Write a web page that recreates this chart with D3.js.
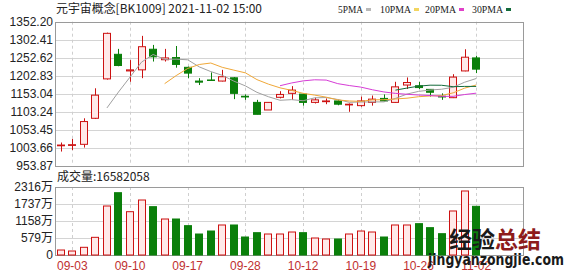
<!DOCTYPE html>
<html>
<head>
<meta charset="utf-8">
<script src="https://cdn.jsdelivr.net/npm/d3@7"></script>
<style>
  body { margin: 0; background: #fff; }
  svg { display: block; }
</style>
</head>
<body>
<svg id="chart" width="578" height="276"></svg>
<script>

// ===========================//
// DATA
// ===========================//

var days = ["09-02","09-03","09-06","09-07","09-08","09-09","09-10","09-13","09-14","09-15",
  "09-16","09-17","09-22","09-23","09-24","09-27","09-28","09-29","09-30","10-08",
  "10-11","10-12","10-13","10-14","10-15","10-18","10-19","10-20","10-21","10-22",
  "10-25","10-26","10-27","10-28","10-29","11-01","11-02"]

var open  = [1009,1010,1013,1085,1194,1262,1216,1219,1276,1247,1253,1226,1188,1191,1188,1197,1146,1129,1108,1143,
  1154,1152,1129,1131,1133,1122,1120,1129,1140,1129,1177,1175,1165,1146,1142,1216,1252]
var close = [1011,1012,1076,1149,1320,1231,1219,1283,1255,1252,1234,1210,1185,1190,1200,1154,1144,1096,1129,1151,
  1163,1129,1136,1133,1124,1124,1133,1138,1133,1172,1184,1170,1157,1144,1199,1254,1221]
var high  = [1018,1028,1085,1168,1322,1277,1246,1313,1288,1277,1285,1228,1196,1212,1219,1199,1151,1136,1129,1160,
  1174,1153,1142,1140,1136,1126,1145,1148,1151,1186,1198,1186,1166,1154,1207,1276,1258]
var low   = [993,997,1004,1083,1192,1229,1186,1196,1242,1242,1225,1196,1177,1189,1187,1138,1136,1096,1108,1140,
  1136,1120,1126,1124,1121,1103,1117,1120,1131,1128,1166,1166,1145,1136,1141,1215,1210]

// volume, in 万
var volume = [170,136,262,602,1669,2122,1475,1873,1646,1226,1226,999,715,817,1022,1022,613,760,715,715,
  783,760,579,545,545,715,817,783,613,1022,1022,1067,931,726,1499,2180,1658]

// moving averages (null = not drawn yet)
var ma5 = [null,null,null,null,1113.6,1157.6,1199,1240.4,1261.6,1248,1248.6,1246.8,1227.2,1214.2,1203.8,1187.8,1174.6,1156.8,1144.6,1134.8,
  1136.6,1133.6,1141.6,1142.4,1137,1129.2,1130,1130.4,1130.4,1140,1152,1159.4,1163.2,1165.4,1170.8,1184.8,1195]
var ma10 = [null,null,null,null,null,null,null,null,null,1180.8,1203.1,1222.9,1233.8,1237.9,1225.9,1218.2,1210.7,1192,1179.4,1169.3,
  1162.2,1154.1,1149.2,1143.5,1135.9,1132.9,1131.8,1136,1136.4,1138.5,1140.6,1144.7,1146.8,1147.9,1155.4,1168.4,1177.2]
var ma20 = [null,null,null,null,null,null,null,null,null,null,null,null,null,null,null,null,null,null,null,1175.1,
  1182.7,1188.5,1191.5,1190.7,1180.9,1175.6,1171.3,1164,1157.9,1153.9,1151.4,1149.4,1148,1145.7,1145.7,1150.7,1154.5]
var ma30 = [null,null,null,null,null,null,null,null,null,null,null,null,null,null,null,null,null,null,null,null,
  null,null,null,null,null,null,null,null,null,1162.9,1168.6,1173.9,1176.6,1176.4,1172.4,1173.2,1173.2]

var priceTicks = [953.87,1003.66,1053.45,1103.24,1153.04,1202.83,1252.62,1302.41,1352.20]
var volTicks = [0,579,1158,1737,2316]
var volTickLabels = ["0","579万","1158万","1737万","2316万"]
var dateTicks = ["09-03","09-10","09-17","09-28","10-12","10-19","10-26","11-02"]

var maNames = ["5PMA","10PMA","20PMA","30PMA"]

// ===========================//
// SCALES
// ===========================//

var left = 55, right = 523
var step = 11.54

var x = d3.scaleBand()
  .domain(days)
  .range([left, left + days.length * step])

var y = d3.scaleLinear()
  .domain([953.87, 1352.20])
  .range([165.7, 21.7])

var yv = d3.scaleLinear()
  .domain([0, 2316])
  .range([255, 187])

var red = "#cc1111", redFill = "#ffe9e9", green = "#0a7f0a"
var maColor = ["#a0a0a0", "#f0a838", "#d63cd6", "#136b3b"]
var legendColor = ["#b8b8b8", "#f2d560", "#e040c8", "#136b3b"]

var svg = d3.select("#chart")
var cx = function(i){ return x(days[i]) + x.bandwidth() / 2 }
var bw = 8

// ===========================//
// GRID + FRAMES
// ===========================//

var grid = svg.append("g")

grid.selectAll("hp").data(priceTicks).enter().append("line")
  .attr("x1", left).attr("x2", right)
  .attr("y1", function(d){ return Math.round(y(d)) + 0.5 })
  .attr("y2", function(d){ return Math.round(y(d)) + 0.5 })
  .attr("stroke", "#d4d4d4")

grid.selectAll("hv").data(volTicks).enter().append("line")
  .attr("x1", left).attr("x2", right)
  .attr("y1", function(d){ return Math.round(yv(d)) + 0.5 })
  .attr("y2", function(d){ return Math.round(yv(d)) + 0.5 })
  .attr("stroke", "#d4d4d4")

// vertical dashed lines through both panels
dateTicks.forEach(function(d){
  var xx = Math.round(x(d) + x.bandwidth() / 2) + 0.5
  grid.append("line").attr("x1", xx).attr("x2", xx).attr("y1", y(1352.20)).attr("y2", y(953.87))
    .attr("stroke", "#cfcfcf").attr("stroke-dasharray", "3,3")
  grid.append("line").attr("x1", xx).attr("x2", xx).attr("y1", yv(2316)).attr("y2", yv(0))
    .attr("stroke", "#cfcfcf").attr("stroke-dasharray", "3,3")
})

svg.append("rect")
  .attr("x", left + 0.5).attr("y", Math.round(y(1352.20)) + 0.5)
  .attr("width", right - left).attr("height", Math.round(y(953.87)) - Math.round(y(1352.20)))
  .attr("fill", "none").attr("stroke", "#9a9a9a")

svg.append("rect")
  .attr("x", left + 0.5).attr("y", Math.round(yv(2316)) + 0.5)
  .attr("width", right - left).attr("height", Math.round(yv(0)) - Math.round(yv(2316)))
  .attr("fill", "none").attr("stroke", "#9a9a9a")

// ===========================//
// AXIS LABELS
// ===========================//

svg.selectAll("pl").data(priceTicks).enter().append("text")
  .attr("x", 53).attr("y", function(d){ return y(d) })
  .attr("dy", "0.36em")
  .attr("text-anchor", "end")
  .style("font", "12px 'Liberation Sans', Arial, sans-serif")
  .attr("fill", "#222")
  .text(function(d){ return d.toFixed(2) })

svg.selectAll("vl").data(volTicks).enter().append("text")
  .attr("x", 53).attr("y", function(d){ return yv(d) })
  .attr("dy", "0.36em")
  .attr("text-anchor", "end")
  .style("font", "12px 'Liberation Sans', 'Noto Sans CJK SC', sans-serif")
  .attr("fill", "#222")
  .text(function(d, i){ return volTickLabels[i] })

svg.selectAll("dl").data(dateTicks).enter().append("text")
  .attr("x", function(d){ return x(d) + x.bandwidth() / 2 })
  .attr("y", 270)
  .attr("text-anchor", "middle")
  .style("font", "12px 'Liberation Sans', sans-serif")
  .attr("fill", "#c03030")
  .text(function(d){ return d })

// ===========================//
// TITLE + LEGEND
// ===========================//

svg.append("text")
  .attr("x", 56).attr("y", 13)
  .attr("textLength", 206).attr("lengthAdjust", "spacingAndGlyphs")
  .style("font", "12px 'Noto Sans CJK SC', sans-serif")
  .attr("fill", "#222")
  .text("元宇宙概念[BK1009] 2021-11-02 15:00")

var legX = [338, 380, 425, 472]
var legW = [25, 31, 31, 31]
maNames.forEach(function(n, i){
  svg.append("text")
    .attr("x", legX[i]).attr("y", 13)
    .attr("textLength", legW[i]).attr("lengthAdjust", "spacingAndGlyphs")
    .style("font", "11px 'Liberation Serif', serif")
    .attr("fill", "#222")
    .text(n)
  svg.append("rect")
    .attr("x", legX[i] + legW[i] + 3).attr("y", 8)
    .attr("width", 5).attr("height", 3)
    .attr("fill", legendColor[i])
})

svg.append("text")
  .attr("x", 57).attr("y", 181)
  .style("font", "12px 'Noto Sans CJK SC', sans-serif")
  .attr("fill", "#222")
  .text("成交量:16582058")

// ===========================//
// CANDLES
// ===========================//

var candles = svg.append("g")

days.forEach(function(d, i){
  var up = close[i] >= open[i]
  var col = up ? red : green
  var xx = Math.round(cx(i)) + 0.5
  candles.append("line")
    .attr("x1", xx).attr("x2", xx)
    .attr("y1", y(high[i])).attr("y2", y(low[i]))
    .attr("stroke", col)
  var top = y(Math.max(open[i], close[i])), bot = y(Math.min(open[i], close[i]))
  candles.append("rect")
    .attr("x", Math.round(cx(i) - bw / 2) + 0.5)
    .attr("y", top)
    .attr("width", bw - 1)
    .attr("height", Math.max(bot - top, 0.5))
    .attr("fill", up ? redFill : green)
    .attr("stroke", col)
})

// ===========================//
// MOVING AVERAGES
// ===========================//

var line = d3.line()
  .defined(function(d){ return d != null })
  .x(function(d, i){ return cx(i) })
  .y(function(d){ return y(d) })

;[ma5, ma10, ma20, ma30].forEach(function(s, k){
  svg.append("path")
    .attr("d", line(s))
    .attr("fill", "none")
    .attr("stroke", maColor[k])
    .attr("stroke-width", 1)
})

// ===========================//
// VOLUME
// ===========================//

svg.selectAll("vb").data(volume).enter().append("rect")
  .attr("x", function(d, i){ return Math.round(cx(i) - bw / 2) + 0.5 })
  .attr("y", function(d){ return yv(d) })
  .attr("width", bw - 1)
  .attr("height", function(d){ return yv(0) - yv(d) })
  .attr("fill", function(d, i){ return close[i] >= open[i] ? redFill : green })
  .attr("stroke", function(d, i){ return close[i] >= open[i] ? red : green })

// ===========================//
// WATERMARK
// ===========================//

svg.append("text")
  .attr("x", 449).attr("y", 248)
  .style("font", "bold 23px 'Noto Sans CJK SC', sans-serif")
  .attr("fill", "#1a1a1a")
  .text("经验")
svg.append("text")
  .attr("x", 495).attr("y", 248)
  .style("font", "bold 23px 'Noto Sans CJK SC', sans-serif")
  .attr("fill", "#8e1c1c")
  .text("总结")
svg.append("text")
  .attr("x", 428).attr("y", 265)
  .attr("textLength", 136).attr("lengthAdjust", "spacingAndGlyphs")
  .style("font", "bold 15px 'DejaVu Sans', sans-serif")
  .attr("fill", "#1a1a1a")
  .text("jingyanzongjie.com")

</script>
</body>
</html>
